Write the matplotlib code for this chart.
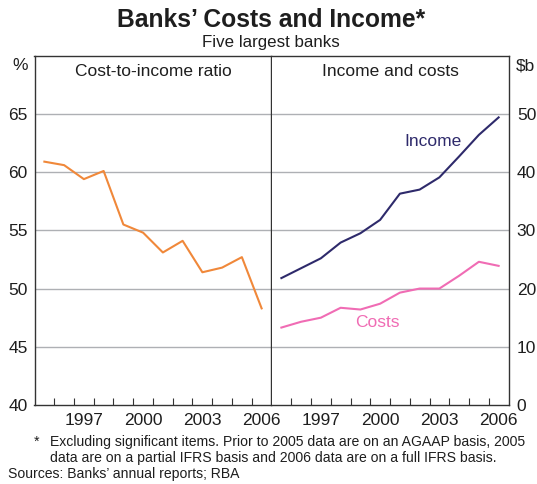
import matplotlib
matplotlib.use("Agg")
import matplotlib.pyplot as plt
import numpy as np

plt.rcParams['font.family'] = ['Liberation Sans', 'DejaVu Sans']

years = list(range(1995, 2007))
cost_to_income = [60.9, 60.6, 59.4, 60.1, 55.5, 54.8, 53.1, 54.1, 51.4, 51.8, 52.7, 48.3]
income = [21.8, 23.5, 25.2, 27.9, 29.5, 31.8, 36.3, 37.0, 39.1, 42.7, 46.4, 49.4]
costs = [13.3, 14.3, 15.0, 16.7, 16.4, 17.4, 19.3, 20.0, 20.0, 22.2, 24.6, 23.9]
year_labels = ['1997', '2000', '2003', '2006']
left_ticks = [40, 45, 50, 55, 60, 65]
right_ticks = [0, 10, 20, 30, 40, 50]

W, H = 537, 484
fig = plt.figure(figsize=(W / 100, H / 100), dpi=100)
txt = '#1e1e1e'
spine_c = '#333333'
grid_c = '#aeb0b4'
fs = 12.5

x0, xm, x1 = 34.5, 271.5, 508.5
ytop, ybot = 55.7, 405
axL = fig.add_axes([x0 / W, 1 - ybot / H, (xm - x0) / W, (ybot - ytop) / H])
axR = fig.add_axes([xm / W, 1 - ybot / H, (x1 - xm) / W, (ybot - ytop) / H])

xs = np.array(years) + 0.5
for ax, ylim, yt in [(axL, (40, 70), left_ticks), (axR, (0, 60), right_ticks)]:
    ax.set_xlim(1995, 2007)
    ax.set_ylim(*ylim)
    for v in yt[1:]:
        ax.axhline(v, color=grid_c, lw=1, zorder=0)
    ax.set_xticks(range(1996, 2007))
    ax.set_xticks([int(y) + 0.5 for y in year_labels], minor=True)
    ax.set_xticklabels(year_labels, minor=True)
    ax.tick_params(axis='x', which='major', direction='in', length=5, color=spine_c, labelbottom=False)
    ax.tick_params(axis='x', which='minor', length=0, pad=6, labelsize=fs, labelcolor=txt)
    for s in ax.spines.values():
        s.set_color(spine_c)
        s.set_linewidth(1)

axL.set_yticks(left_ticks)
axL.tick_params(axis='y', length=0, pad=5, labelsize=fs, labelcolor=txt)
axR.set_yticks(right_ticks)
axR.yaxis.tick_right()
axR.tick_params(axis='y', length=0, pad=6, labelsize=fs, labelcolor=txt)
axR.spines['left'].set_visible(False)

axL.plot(xs, cost_to_income, color='#f0883a', lw=1.5)
axR.plot(xs, income, color='#2e2a6b', lw=1.5)
axR.plot(xs, costs, color='#f06cb4', lw=1.5)

axL.text(0.5, 0.955, 'Cost-to-income ratio', transform=axL.transAxes, ha='center', va='center', fontsize=fs, color=txt)
axR.text(0.5, 0.955, 'Income and costs', transform=axR.transAxes, ha='center', va='center', fontsize=fs, color=txt)
axR.text(2003.2, 45.2, 'Income', ha='center', va='center', fontsize=fs, color='#2e2a6b')
axR.text(2000.35, 14.1, 'Costs', ha='center', va='center', fontsize=fs, color='#f06cb4')

fig.text(271 / W, 1 - 20 / H, 'Banks\u2019 Costs and Income*', ha='center', va='center', fontsize=17.7, fontweight='bold', color=txt)
fig.text(271 / W, 1 - 43 / H, 'Five largest banks', ha='center', va='center', fontsize=12.2, color=txt)
fig.text(20 / W, 1 - 66 / H, '%', ha='center', va='center', fontsize=fs, color=txt)
fig.text(516 / W, 1 - 66 / H, '$b', ha='left', va='center', fontsize=fs, color=txt)

ffs = 10.1
fig.text(36 / W, 1 - 442 / H, '*', ha='center', va='center', fontsize=ffs, color=txt)
fig.text(50 / W, 1 - 442 / H, 'Excluding significant items. Prior to 2005 data are on an AGAAP basis, 2005',
         ha='left', va='center', fontsize=ffs, color=txt)
fig.text(50 / W, 1 - 458 / H, 'data are on a partial IFRS basis and 2006 data are on a full IFRS basis.',
         ha='left', va='center', fontsize=ffs, color=txt)
fig.text(8 / W, 1 - 474 / H, 'Sources: Banks\u2019 annual reports; RBA', ha='left', va='center', fontsize=ffs, color=txt)

fig.savefig('out.png', dpi=100)
